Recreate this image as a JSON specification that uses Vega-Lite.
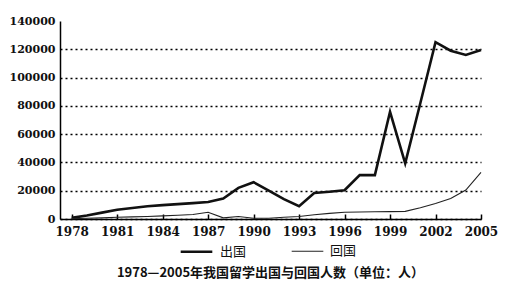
{
  "$schema": "https://vega.github.io/schema/vega-lite/v6.json",
  "width": 421,
  "height": 198,
  "autosize": "none",
  "padding": {"left": 60, "top": 21, "right": 39, "bottom": 74},
  "background": "white",
  "config": {"view": {"stroke": null}},
  "title": {
    "text": "1978—2005年我国留学出国与回国人数（单位：人）",
    "orient": "bottom",
    "anchor": "middle",
    "offset": 8,
    "font": "Noto Sans CJK SC",
    "fontSize": 13,
    "fontWeight": "bold",
    "color": "#111"
  },
  "data": {
    "values": [
      {"year": 1978, "series": "出国", "value": 800},
      {"year": 1979, "series": "出国", "value": 2500},
      {"year": 1980, "series": "出国", "value": 4500},
      {"year": 1981, "series": "出国", "value": 6500},
      {"year": 1982, "series": "出国", "value": 7800},
      {"year": 1983, "series": "出国", "value": 9000},
      {"year": 1984, "series": "出国", "value": 9800},
      {"year": 1985, "series": "出国", "value": 10500},
      {"year": 1986, "series": "出国", "value": 11200},
      {"year": 1987, "series": "出国", "value": 12000},
      {"year": 1988, "series": "出国", "value": 14500},
      {"year": 1989, "series": "出国", "value": 22000},
      {"year": 1990, "series": "出国", "value": 26000},
      {"year": 1991, "series": "出国", "value": 20000},
      {"year": 1992, "series": "出国", "value": 14000},
      {"year": 1993, "series": "出国", "value": 9000},
      {"year": 1994, "series": "出国", "value": 18400},
      {"year": 1995, "series": "出国", "value": 19300},
      {"year": 1996, "series": "出国", "value": 20300},
      {"year": 1997, "series": "出国", "value": 31000},
      {"year": 1998, "series": "出国", "value": 31000},
      {"year": 1999, "series": "出国", "value": 75800},
      {"year": 2000, "series": "出国", "value": 39400},
      {"year": 2001, "series": "出国", "value": 82000},
      {"year": 2002, "series": "出国", "value": 125000},
      {"year": 2003, "series": "出国", "value": 119000},
      {"year": 2004, "series": "出国", "value": 116000},
      {"year": 2005, "series": "出国", "value": 119500},
      {"year": 1978, "series": "回国", "value": 300},
      {"year": 1979, "series": "回国", "value": 500},
      {"year": 1980, "series": "回国", "value": 800},
      {"year": 1981, "series": "回国", "value": 1200},
      {"year": 1982, "series": "回国", "value": 1500},
      {"year": 1983, "series": "回国", "value": 1800},
      {"year": 1984, "series": "回国", "value": 2200},
      {"year": 1985, "series": "回国", "value": 2600},
      {"year": 1986, "series": "回国", "value": 3200},
      {"year": 1987, "series": "回国", "value": 4800},
      {"year": 1988, "series": "回国", "value": 800},
      {"year": 1989, "series": "回国", "value": 1800},
      {"year": 1990, "series": "回国", "value": 500},
      {"year": 1991, "series": "回国", "value": 500},
      {"year": 1992, "series": "回国", "value": 1200},
      {"year": 1993, "series": "回国", "value": 1800},
      {"year": 1994, "series": "回国", "value": 3000},
      {"year": 1995, "series": "回国", "value": 4000},
      {"year": 1996, "series": "回国", "value": 4800},
      {"year": 1997, "series": "回国", "value": 5000},
      {"year": 1998, "series": "回国", "value": 5100},
      {"year": 1999, "series": "回国", "value": 5200},
      {"year": 2000, "series": "回国", "value": 5400},
      {"year": 2001, "series": "回国", "value": 8000},
      {"year": 2002, "series": "回国", "value": 11000},
      {"year": 2003, "series": "回国", "value": 14500},
      {"year": 2004, "series": "回国", "value": 20500},
      {"year": 2005, "series": "回国", "value": 33000}
    ]
  },
  "mark": {"type": "line", "interpolate": "linear", "strokeJoin": "miter"},
  "encoding": {
    "x": {
      "field": "year",
      "type": "quantitative",
      "scale": {"domain": [1977.23, 2005], "nice": false, "zero": false},
      "axis": {
        "values": [1978, 1981, 1984, 1987, 1990, 1993, 1996, 1999, 2002, 2005],
        "format": "d",
        "title": null,
        "grid": false,
        "tickSize": -5,
        "tickColor": "black",
        "tickWidth": 1.5,
        "domainColor": "black",
        "domainWidth": 1.5,
        "labelFont": "DejaVu Serif",
        "labelFontWeight": "bold",
        "labelFontSize": 12,
        "labelColor": "#111",
        "labelPadding": 12,
        "labelFlush": false
      }
    },
    "y": {
      "field": "value",
      "type": "quantitative",
      "scale": {"domain": [0, 140000], "nice": false},
      "axis": {
        "values": [0, 20000, 40000, 60000, 80000, 100000, 120000, 140000],
        "format": "d",
        "title": null,
        "grid": true,
        "gridDash": [2, 3],
        "gridColor": "black",
        "gridWidth": 1.5,
        "gridOpacity": {"condition": {"test": "datum.value >= 140000", "value": 0}, "value": 1},
        "ticks": false,
        "domainColor": "black",
        "domainWidth": 1.5,
        "labelFont": "DejaVu Serif",
        "labelFontWeight": "bold",
        "labelFontSize": 11,
        "labelColor": "#111",
        "labelPadding": 5
      }
    },
    "color": {
      "field": "series",
      "type": "nominal",
      "scale": {"domain": ["出国", "回国"], "range": ["#111111", "#222222"]},
      "legend": {
        "orient": "none",
        "legendX": 119,
        "legendY": 213,
        "direction": "horizontal",
        "title": null,
        "symbolType": "stroke",
        "symbolSize": 1000,
        "labelFont": "Noto Sans CJK SC",
        "labelFontSize": 13,
        "labelColor": "#111",
        "columnPadding": 42,
        "labelOffset": 6
      }
    },
    "strokeWidth": {
      "field": "series",
      "type": "nominal",
      "scale": {"domain": ["出国", "回国"], "range": [2.6, 1.1]},
      "legend": {
        "orient": "none",
        "legendX": 119,
        "legendY": 213,
        "direction": "horizontal",
        "title": null,
        "symbolType": "stroke",
        "symbolSize": 1000,
        "labelFont": "Noto Sans CJK SC",
        "labelFontSize": 13,
        "labelColor": "#111",
        "columnPadding": 42,
        "labelOffset": 6
      }
    }
  }
}
